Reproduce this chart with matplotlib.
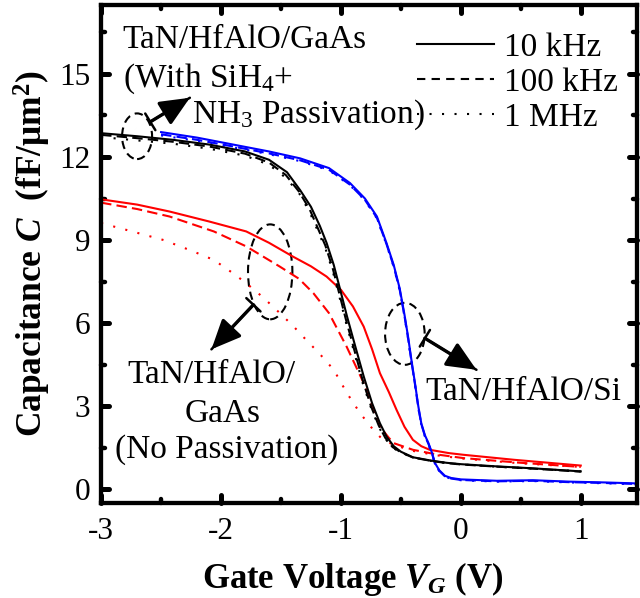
import matplotlib
matplotlib.use('Agg')
import matplotlib.pyplot as plt
from matplotlib.patches import Ellipse
from matplotlib.lines import Line2D
from matplotlib.markers import MarkerStyle
from matplotlib.ticker import MultipleLocator

plt.rcParams['font.family'] = 'Liberation Serif'
plt.rcParams['mathtext.fontset'] = 'custom'
plt.rcParams['mathtext.rm'] = 'Liberation Serif'
plt.rcParams['mathtext.it'] = 'Liberation Serif:bold:italic'
plt.rcParams['mathtext.bf'] = 'Liberation Serif:bold'
plt.rcParams['axes.unicode_minus'] = False

# GaAs with SiH4+NH3 passivation (black)
pas_x_10k = [-3.0, -2.7, -2.4, -2.1, -1.8, -1.6, -1.45, -1.34, -1.25, -1.175, -1.12, -1.06, -1.0, -0.95,
             -0.88, -0.81, -0.74, -0.675, -0.62, -0.56, -0.5, -0.4, -0.25, -0.12, 0.0, 0.3, 0.6, 1.0]
pas_y_10k = [12.86, 12.75, 12.62, 12.45, 12.2, 11.9, 11.45, 10.8, 10.2, 9.5, 8.9, 8.1, 7.1, 6.25,
             5.15, 4.07, 3.1, 2.38, 1.9, 1.55, 1.35, 1.15, 1.03, 0.95, 0.9, 0.82, 0.75, 0.64]
pas_x_100k = [-3.0, -2.7, -2.4, -2.1, -1.8, -1.6, -1.46, -1.35, -1.26, -1.19, -1.13, -1.07, -1.01, -0.96,
              -0.89, -0.82, -0.75, -0.685, -0.63, -0.57, -0.5, -0.4, -0.25, -0.12, 0.0, 0.3, 0.6, 1.0]
pas_y_100k = [12.8, 12.68, 12.55, 12.38, 12.12, 11.8, 11.35, 10.75, 10.1, 9.4, 8.8, 8.0, 7.0, 6.15,
              5.05, 3.95, 3.0, 2.3, 1.85, 1.52, 1.33, 1.14, 1.02, 0.94, 0.89, 0.81, 0.74, 0.63]
pas_x_1m = [-3.0, -2.7, -2.4, -2.1, -1.8, -1.6, -1.46, -1.35, -1.26, -1.19, -1.13, -1.07, -1.01, -0.96,
            -0.89, -0.82, -0.75, -0.685, -0.63, -0.57, -0.5, -0.4, -0.25, -0.12, 0.0, 0.3, 0.6, 1.0]
pas_y_1m = [12.72, 12.6, 12.48, 12.3, 12.05, 11.72, 11.25, 10.7, 10.0, 9.3, 8.7, 7.9, 6.9, 6.05,
            4.95, 3.85, 2.95, 2.25, 1.82, 1.5, 1.32, 1.14, 1.02, 0.94, 0.89, 0.81, 0.74, 0.64]

# GaAs without passivation (red)
nop_x_10k = [-3.0, -2.7, -2.43, -2.1, -1.79, -1.6, -1.4, -1.25, -1.12, -1.0, -0.9, -0.81, -0.74, -0.675,
             -0.6, -0.536, -0.47, -0.4, -0.33, -0.26, -0.1, 0.02, 0.44, 1.0]
nop_y_10k = [10.47, 10.28, 10.03, 9.67, 9.31, 8.9, 8.4, 8.05, 7.68, 7.2, 6.6, 5.87, 5.05, 4.19,
             3.5, 2.86, 2.25, 1.78, 1.55, 1.42, 1.3, 1.24, 1.06, 0.85]
nop_x_100k = [-3.0, -2.7, -2.43, -2.06, -1.79, -1.51, -1.35, -1.23, -1.1, -0.953, -0.81, -0.675, -0.6,
              -0.56, -0.4, -0.2, 0.02, 0.5, 1.0]
nop_y_100k = [10.35, 10.12, 9.85, 9.31, 8.77, 8.04, 7.6, 7.08, 6.36, 5.15, 3.83, 2.26, 1.85,
              1.66, 1.42, 1.25, 1.12, 0.95, 0.8]
nop_x_1m = [-3.0, -2.75, -2.48, -2.25, -2.06, -1.9, -1.79, -1.65, -1.51, -1.4, -1.29, -1.18, -1.06,
            -0.95, -0.84, -0.73, -0.65, -0.56, -0.4, -0.2, 0.02, 0.5, 1.0]
nop_y_1m = [9.61, 9.32, 9.0, 8.62, 8.28, 7.8, 7.44, 6.93, 6.36, 5.9, 5.39, 4.9, 4.31,
            3.47, 2.74, 2.14, 1.78, 1.6, 1.38, 1.22, 1.1, 0.93, 0.8]

# Si reference (blue)
si_x = [-2.5, -2.2, -1.9, -1.6, -1.34, -1.1, -0.925, -0.8, -0.7, -0.62, -0.56, -0.51, -0.47, -0.44,
        -0.41, -0.383, -0.355, -0.33, -0.3, -0.27, -0.24, -0.217, -0.18, -0.133, -0.08, 0.0, 0.3,
        0.6, 0.9, 1.2, 1.5]
si_y_10k = [12.9, 12.7, 12.45, 12.2, 11.95, 11.6, 11.06, 10.5, 9.85, 8.89, 8.1, 7.25, 6.3, 5.5,
            4.6, 3.84, 3.0, 2.38, 1.95, 1.66, 1.3, 0.95, 0.68, 0.48, 0.4, 0.35, 0.3,
            0.32, 0.27, 0.24, 0.2]
si_y_100k = [12.82, 12.62, 12.38, 12.13, 11.88, 11.54, 11.0, 10.45, 9.8, 8.85, 8.05, 7.2, 6.25, 5.45,
             4.55, 3.8, 2.95, 2.35, 1.92, 1.63, 1.28, 0.93, 0.66, 0.46, 0.38, 0.33, 0.28,
             0.3, 0.25, 0.22, 0.18]
si_y_1m = [12.78, 12.58, 12.35, 12.1, 11.85, 11.52, 10.98, 10.43, 9.78, 8.83, 8.03, 7.18, 6.23, 5.43,
           4.53, 3.78, 2.93, 2.33, 1.9, 1.61, 1.26, 0.92, 0.65, 0.45, 0.37, 0.32, 0.27,
           0.29, 0.24, 0.21, 0.17]

freq_labels = ['10 kHz', '100 kHz', '1 MHz']

dash = (0, (5, 2.5))
dot = (0, (1, 5))

fig = plt.figure(figsize=(6.4, 5.98), dpi=100)
ax = fig.add_axes([0.158, 0.159, 0.8375, 0.833])

ax.plot(nop_x_1m, nop_y_1m, color='red', lw=1.5, ls=dot)
ax.plot(nop_x_100k, nop_y_100k, color='red', lw=1.5, ls=dash)
ax.plot(nop_x_10k, nop_y_10k, color='red', lw=1.5, ls='-')
ax.plot(si_x, si_y_1m, color='blue', lw=1.5, ls=dot)
ax.plot(si_x, si_y_100k, color='blue', lw=1.5, ls=dash)
ax.plot(si_x, si_y_10k, color='blue', lw=1.5, ls='-')
ax.plot(pas_x_1m, pas_y_1m, color='black', lw=1.5, ls=dot)
ax.plot(pas_x_100k, pas_y_100k, color='black', lw=1.5, ls=dash)
ax.plot(pas_x_10k, pas_y_10k, color='black', lw=1.5, ls='-')

ax.set_xlim(-3, 1.47)
ax.set_ylim(-0.5, 17.5)
ax.xaxis.set_major_locator(MultipleLocator(1))
ax.xaxis.set_minor_locator(MultipleLocator(0.5))
ax.yaxis.set_major_locator(MultipleLocator(3))
ax.yaxis.set_minor_locator(MultipleLocator(1.5))
ax.tick_params(which='both', direction='in', top=True, right=True, labelsize=22.5, pad=8)
ax.tick_params(axis='x', pad=10)
ax.tick_params(which='major', length=6, width=3.6)
ax.tick_params(which='minor', length=3, width=3.2)
for s in ax.spines.values():
    s.set_linewidth(3.1)

ax.set_xlabel('Gate Voltage $V_G$ (V)', fontsize=25, fontweight='bold')
ax.set_ylabel('Capacitance $C$  (fF/μm$^\\mathbf{2}$)', fontsize=25.5, fontweight='bold')
ax.xaxis.set_label_coords(0.47, -0.115)
ax.yaxis.set_label_coords(-0.09, 0.5)

# dashed ellipses + arrows
ell_style = dict(fill=False, ls=(0, (4, 2.5)), lw=1.5, color='k')
ax.add_patch(Ellipse((-2.7, 12.75), 0.25, 1.65, **ell_style))
ax.add_patch(Ellipse((-1.59, 7.85), 0.37, 3.43, **ell_style))
ax.add_patch(Ellipse((-0.467, 5.61), 0.33, 2.24, **ell_style))

arrows = [((-2.59, 13.27), (-2.26, 14.14)),
          ((-1.73, 6.66), (-2.08, 5.05)),
          ((-0.30, 5.45), (0.13, 4.31))]
for start, tip in arrows:
    ax.annotate('', xy=tip, xytext=start,
                arrowprops=dict(arrowstyle='-|>,head_length=0.9,head_width=0.4', lw=2.4,
                                color='k', shrinkA=0, shrinkB=0, mutation_scale=20))
    ax.annotate('', xy=tip, xytext=start,
                arrowprops=dict(arrowstyle='|-|,widthA=0.35,widthB=0', lw=1.8,
                                color='k', shrinkA=0, shrinkB=0, mutation_scale=20))

fs = 24
ax.text(-2.82, 15.95, 'TaN/HfAlO/GaAs', fontsize=fs)
ax.text(-2.82, 14.54, '(With SiH$_4$+', fontsize=fs)
ax.text(-2.24, 13.24, 'NH$_3$ Passivation)', fontsize=fs)
ax.text(-2.08, 3.84, 'TaN/HfAlO/', fontsize=fs, ha='center')
ax.text(-1.99, 2.44, 'GaAs', fontsize=fs, ha='center')
ax.text(-1.95, 1.12, '(No Passivation)', fontsize=fs, ha='center')
ax.text(0.525, 3.22, 'TaN/HfAlO/Si', fontsize=fs, ha='center')

handles = [Line2D([], [], color='k', lw=1.5, ls='-'),
           Line2D([], [], color='k', lw=1.5, ls=(0, (4, 3))),
           Line2D([], [], color='k', lw=1.5, ls=(0, (1, 5)))]
ax.legend(handles, freq_labels, loc='upper right', bbox_to_anchor=(1.31, 16.5),
          bbox_transform=ax.transData, frameon=False, handlelength=2.3, handletextpad=0.3,
          labelspacing=0.13, borderpad=0, borderaxespad=0, fontsize=fs)

# round tick ends
for tl in ax.xaxis.get_ticklines(minor=False) + ax.xaxis.get_ticklines(minor=True) + \
        ax.yaxis.get_ticklines(minor=False) + ax.yaxis.get_ticklines(minor=True):
    tl.set_marker(MarkerStyle(tl.get_marker(), capstyle='round'))

fig.savefig('out.png', dpi=100)
